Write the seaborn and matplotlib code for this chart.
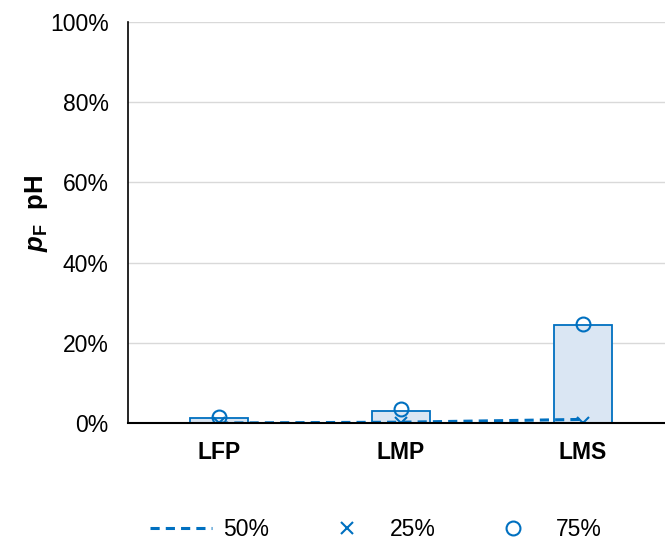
import matplotlib
matplotlib.use("Agg")
import matplotlib.pyplot as plt
import seaborn as sns
import pandas as pd

# Data (fractions)
categories = ["LFP", "LMP", "LMS"]
bar_values = [0.012, 0.031, 0.245]
p50 = [0.0, 0.002, 0.009]
p25 = [0.0, 0.0, 0.0]
p75 = [0.015, 0.034, 0.246]

blue = "#0070C0"
fill = "#DAE6F3"

sns.set_theme(style="white")
plt.rcParams["font.family"] = ["Liberation Sans", "DejaVu Sans"]
plt.rcParams["text.color"] = "black"
plt.rcParams["axes.labelcolor"] = "black"
plt.rcParams["xtick.color"] = "black"
plt.rcParams["ytick.color"] = "black"
plt.rcParams["mathtext.fontset"] = "custom"
plt.rcParams["mathtext.rm"] = "Liberation Sans"
plt.rcParams["mathtext.bf"] = "Liberation Sans:bold"
plt.rcParams["mathtext.it"] = "Liberation Sans:italic"
plt.rcParams["mathtext.bfit"] = "Liberation Sans:bold:italic"

df = pd.DataFrame({"cat": categories, "val": bar_values})

fig = plt.figure(figsize=(6.65, 5.45), dpi=100)
ax = fig.add_axes([128 / 665, 1 - 423 / 545, 546 / 665, 401 / 545])

sns.barplot(data=df, x="cat", y="val", ax=ax, color=fill, width=0.32,
            edgecolor=blue, linewidth=1.3, saturation=1)

ax.plot(categories, p50, color=blue, lw=2.2, linestyle=(0, (3, 2)), label="50%", zorder=3)
ax.plot(categories, p25, linestyle="none", marker="x", ms=9, mew=1.5, color=blue, label="25%", zorder=4)
ax.plot(categories, p75, linestyle="none", marker="o", ms=10, mew=1.5, mfc="none", mec=blue, label="75%", zorder=4)

ax.set_xlim(-0.5, 2.5)
ax.set_ylim(0, 1.0)
ax.set_yticks([0, 0.2, 0.4, 0.6, 0.8, 1.0])
ax.set_yticklabels(["0%", "20%", "40%", "60%", "80%", "100%"], fontsize=16.5)
ax.yaxis.grid(True, color="#D9D9D9", lw=1)
ax.set_axisbelow(True)
ax.tick_params(axis="y", length=0, pad=14)
ax.tick_params(axis="x", length=0, pad=13)
for lbl in ax.get_xticklabels():
    lbl.set_fontweight("bold")
    lbl.set_fontsize(16.5)

for side in ["top", "right"]:
    ax.spines[side].set_visible(False)
ax.spines["left"].set_color("black")
ax.spines["left"].set_linewidth(1.2)
ax.spines["bottom"].set_color("black")
ax.spines["bottom"].set_linewidth(1.5)
ax.spines["bottom"].set_zorder(5)

ax.set_xlabel("")
ax.set_ylabel(r"$\mathbfit{p}_\mathbf{F}$  pH", fontsize=18.5, fontweight="bold")
ax.yaxis.set_label_coords(-0.142, 0.522)

fig.legend(loc="center", bbox_to_anchor=(0.565, 1 - 530 / 545), ncol=3, frameon=False,
           fontsize=16.5, handlelength=2.7, columnspacing=2.05, handletextpad=0.5)

fig.savefig("out.png", dpi=100)
